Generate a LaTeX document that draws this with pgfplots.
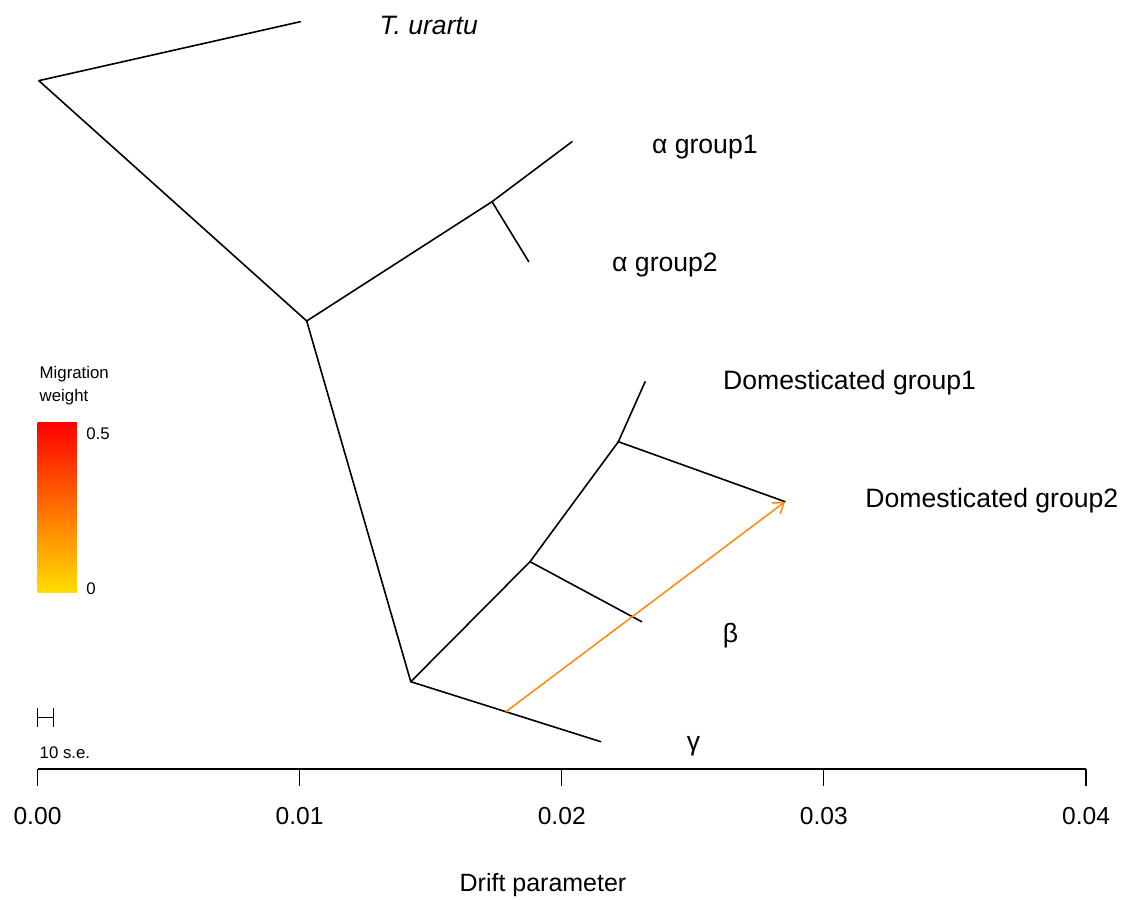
\documentclass[border=0pt]{standalone}
\usepackage{fontspec}
\setmainfont{Liberation Sans}
\usepackage{pgfplots}
\pgfplotsset{compat=1.18}
\usetikzlibrary{arrows.meta}

\definecolor{migorange}{RGB}{255,140,20}
\definecolor{migred}{RGB}{255,0,0}
\definecolor{migyellow}{RGB}{255,222,0}

\newcommand{\labfont}{\fontsize{13.3}{16}\selectfont}
\newcommand{\keyfont}{\fontsize{8.4}{10}\selectfont}

\begin{document}
\begin{tikzpicture}
\begin{axis}[
  scale only axis,
  width=524.25pt, height=384.5pt,
  xmin=0, xmax=0.04, ymin=0, ymax=1,
  axis x line=bottom, axis y line=none,
  axis line style={-, line width=0.9pt, black},
  xtick={0,0.01,0.02,0.03,0.04},
  ytick=\empty,
  tick align=outside,
  major tick length=8.5pt,
  tick style={black, line width=0.6pt},
  scaled x ticks=false,
  /pgf/number format/assume math mode=true,
  xticklabel style={
    font=\fontsize{12.3}{14}\selectfont,
    /pgf/number format/fixed,
    /pgf/number format/fixed zerofill,
    /pgf/number format/precision=2,
    yshift=-7pt},
  xlabel={Drift parameter},
  xlabel style={font=\fontsize{12.5}{15}\selectfont,
    at={(rel axis cs:0.4821,-0.1599)}, anchor=base, inner sep=0pt},
  clip=false,
  treeline/.style={black, line width=0.8pt, line cap=round},
]
% tree edges (drift on x, arbitrary layout on y)
\addplot[treeline] coordinates {(0.00005,0.8951) (0.01003,0.9718)}; % root - T. urartu
\addplot[treeline] coordinates {(0.00005,0.8951) (0.01027,0.5826)}; % root - A
\addplot[treeline] coordinates {(0.01027,0.5826) (0.01734,0.7377)}; % A - alpha node
\addplot[treeline] coordinates {(0.01734,0.7377) (0.02039,0.8157)}; % alpha group1
\addplot[treeline] coordinates {(0.01734,0.7377) (0.01874,0.6597)}; % alpha group2
\addplot[treeline] coordinates {(0.01027,0.5826) (0.01424,0.1135)}; % A - B
\addplot[treeline] coordinates {(0.01424,0.1135) (0.01879,0.2696)}; % B - C
\addplot[treeline] coordinates {(0.01879,0.2696) (0.02216,0.4256)}; % C - D
\addplot[treeline] coordinates {(0.02216,0.4256) (0.02318,0.5036)}; % domesticated group1
\addplot[treeline] coordinates {(0.02216,0.4256) (0.02852,0.3476)}; % domesticated group2
\addplot[treeline] coordinates {(0.01879,0.2696) (0.02305,0.1915)}; % beta
\addplot[treeline] coordinates {(0.01424,0.1135) (0.02149,0.0355)}; % gamma

% migration edge
\addplot[migorange, line width=0.8pt,
  -{Straight Barb[length=5pt, width=7pt, line width=0.8pt]}]
  coordinates {(0.01787,0.0745) (0.02852,0.3476)};

% tip labels
\node[anchor=base west, inner sep=0pt, font=\labfont\itshape] at (axis cs:0.01304,0.9545) {T. urartu};
\node[anchor=base west, inner sep=0pt, font=\labfont] at (axis cs:0.02343,0.8006) {α group1};
\node[anchor=base west, inner sep=0pt, font=\labfont] at (axis cs:0.02191,0.6467) {α group2};
\node[anchor=base west, inner sep=0pt, font=\labfont] at (axis cs:0.02614,0.4941) {Domesticated group1};
\node[anchor=base west, inner sep=0pt, font=\labfont] at (axis cs:0.03157,0.3403) {Domesticated group2};
\node[anchor=base west, inner sep=0pt, font=\labfont] at (axis cs:0.02613,0.1651) {β};
\node[anchor=base west, inner sep=0pt, font=\labfont] at (axis cs:0.02476,0.0241) {γ};

% migration weight key
\node[anchor=base west, inner sep=0pt, font=\keyfont] at (axis cs:0.00007,0.5081) {Migration};
\node[anchor=base west, inner sep=0pt, font=\keyfont] at (axis cs:0.00007,0.4776) {weight};
\shade[top color=migred, bottom color=migyellow]
  (axis cs:0,0.2293) rectangle (axis cs:0.0015,0.4503);
\node[anchor=base west, inner sep=0pt, font=\keyfont] at (axis cs:0.00185,0.4287) {0.5};
\node[anchor=base west, inner sep=0pt, font=\keyfont] at (axis cs:0.00185,0.2263) {0};

% scale bar: 10 standard errors
\draw[black, line width=0.6pt] (axis cs:0,0.067) -- (axis cs:0.000603,0.067);
\draw[black, line width=0.6pt] (axis cs:0,0.0789) -- (axis cs:0,0.055);
\draw[black, line width=0.6pt] (axis cs:0.000603,0.0789) -- (axis cs:0.000603,0.055);
\node[anchor=base west, inner sep=0pt, font=\keyfont] at (axis cs:0.00007,0.0135) {10 s.e.};

% picture frame
\coordinate (bbSW) at (axis cs:-0.001431,-0.17035);
\coordinate (bbNE) at (axis cs:0.041526,1);
\end{axis}
\pgfresetboundingbox
\path[use as bounding box] (bbSW) rectangle (bbNE);
\end{tikzpicture}
\end{document}
